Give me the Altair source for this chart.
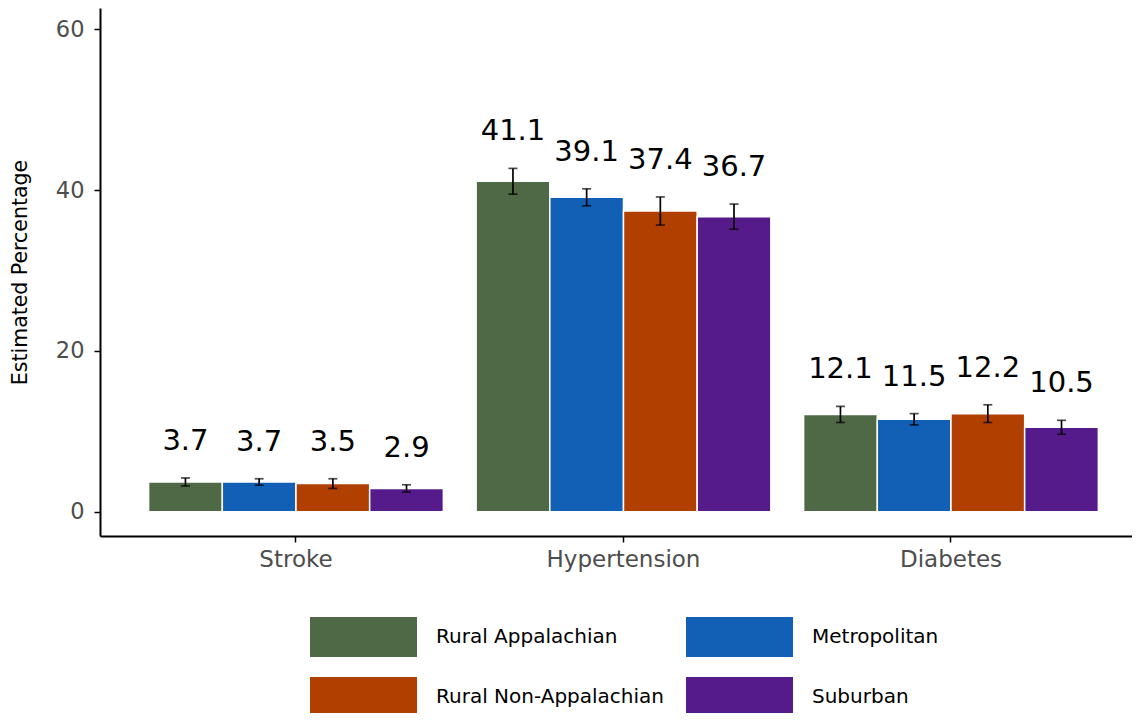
import altair as alt
import pandas as pd

conditions = ["Stroke", "Hypertension", "Diabetes"]
groups = ["Rural Appalachian", "Metropolitan", "Rural Non-Appalachian", "Suburban"]
colors = ["#4F6846", "#1160B6", "#B03F00", "#561B8A"]

# estimated percentage per condition (rows) and group (columns)
values = [
    [3.7, 3.7, 3.5, 2.9],
    [41.1, 39.1, 37.4, 36.7],
    [12.1, 11.5, 12.2, 10.5],
]
# half-width of the error bars
half_ci = [
    [0.50, 0.40, 0.60, 0.45],
    [1.60, 1.06, 1.75, 1.56],
    [1.00, 0.70, 1.10, 0.87],
]

rows = []
for i, c in enumerate(conditions):
    for j, g in enumerate(groups):
        v = values[i][j]
        h = half_ci[i][j]
        rows.append({"condition": c, "group": g, "value": v,
                     "lower": v - h, "upper": v + h, "label": f"{v:.1f}"})
df = pd.DataFrame(rows)

FONT = "DejaVu Sans"

x_enc = alt.X("condition:N", sort=conditions,
              scale=alt.Scale(paddingInner=0.1, paddingOuter=0.1256, align=0.591),
              axis=alt.Axis(title=None, labelAngle=0, labelFontSize=23, labelFont=FONT,
                            labelColor="#4D4D4D", labelPadding=6, tickSize=6,
                            tickColor="black", tickWidth=1.5, domainColor="black",
                            domainWidth=2, grid=False))
xoff = alt.XOffset("group:N", sort=groups, scale=alt.Scale(paddingInner=0, paddingOuter=0))
y_scale = alt.Scale(domain=[-3.02, 62.65], nice=False, zero=False)

color_enc = alt.Color("group:N", sort=groups,
                      scale=alt.Scale(domain=groups, range=colors),
                      legend=alt.Legend(orient="none", legendX=243.5, legendY=609,
                                        direction="horizontal", columns=2, title=None,
                                        symbolType="M-2.675,-1H2.675V1H-2.675Z",
                                        symbolSize=1600, symbolStrokeWidth=0,
                                        symbolOpacity=1,
                                        labelFontSize=20, labelFont=FONT, labelColor="black",
                                        labelOffset=52.5, labelLimit=0,
                                        columnPadding=21, rowPadding=20, padding=0))

base = alt.Chart(df)

bars = base.mark_bar(stroke="white", strokeWidth=1.5).encode(
    x=x_enc, xOffset=xoff,
    y=alt.Y("value:Q", scale=y_scale,
            axis=alt.Axis(title="Estimated Percentage", values=[0, 20, 40, 60],
                          labelFontSize=22.5, labelFont=FONT, labelColor="#4D4D4D",
                          labelPadding=10, tickSize=6, tickColor="black", tickWidth=1.5,
                          domainColor="black", domainWidth=2, grid=False,
                          titleFontSize=20.5, titleFont=FONT, titleColor="black",
                          titleFontWeight="normal", titlePadding=25)),
    color=color_enc,
)

rules = base.mark_rule(color="black", strokeWidth=1.7).encode(
    x=x_enc, xOffset=xoff,
    y=alt.Y("lower:Q", scale=y_scale), y2="upper:Q",
)
cap_hi = base.mark_tick(color="black", thickness=1.7, size=9).encode(
    x=x_enc, xOffset=xoff, y=alt.Y("upper:Q", scale=y_scale),
)
cap_lo = base.mark_tick(color="black", thickness=1.7, size=9).encode(
    x=x_enc, xOffset=xoff, y=alt.Y("lower:Q", scale=y_scale),
)
labels = base.mark_text(fontSize=29, font=FONT, color="black", baseline="middle",
                        dy=-37).encode(
    x=x_enc, xOffset=xoff, y=alt.Y("upper:Q", scale=y_scale), text="label:N",
)

chart = alt.layer(bars, rules, cap_hi, cap_lo, labels).properties(
    width=1032, height=528,
    background="white",
    autosize=alt.AutoSizeParams(type="none"),
    padding={"left": 92, "top": 0, "right": 0, "bottom": 177},
).configure_view(strokeWidth=0, stroke="transparent")

chart.save("out.html", embed_options={"renderer": "svg", "actions": False})
